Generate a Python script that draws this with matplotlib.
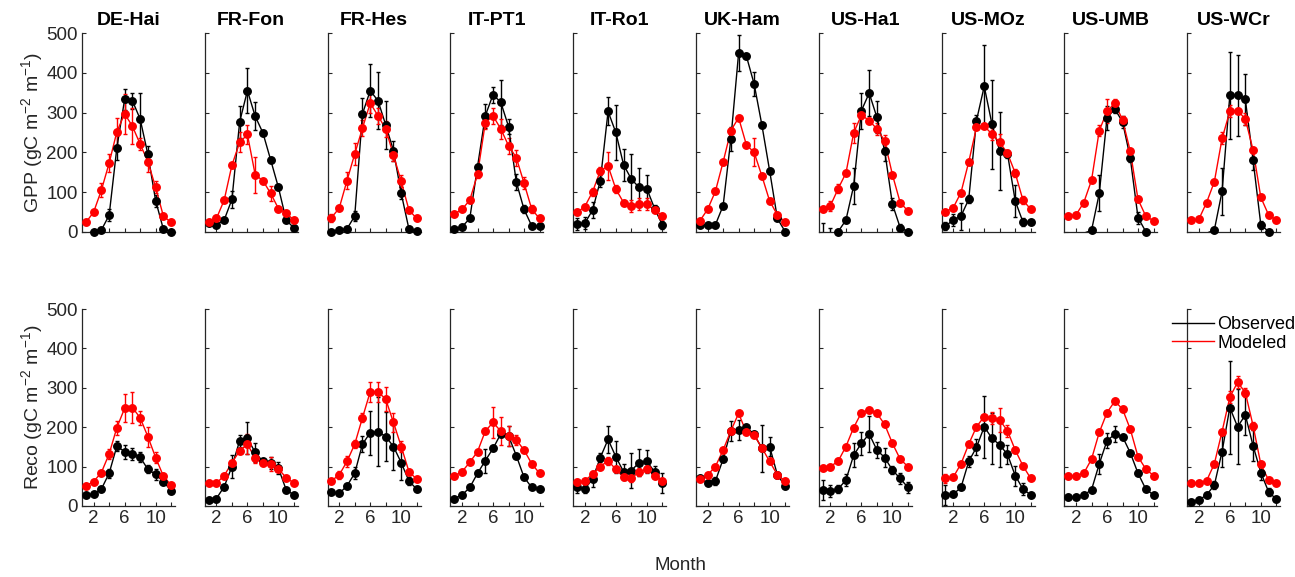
import numpy as np
import matplotlib
matplotlib.use("Agg")
import matplotlib.pyplot as plt
from matplotlib.lines import Line2D

plt.rcParams['font.family'] = ['Liberation Sans', 'DejaVu Sans']
plt.rcParams['mathtext.default'] = 'regular'

months = list(range(1, 13))
sites = ["DE-Hai", "FR-Fon", "FR-Hes", "IT-PT1", "IT-Ro1",
         "UK-Ham", "US-Ha1", "US-MOz", "US-UMB", "US-WCr"]

gpp_obs = [
    [-3, 0, 5, 42, 212, 333, 330, 284, 195, 79, 7, 1],
    [22, 18, 30, 82, 277, 355, 291, 249, 181, 112, 30, 10],
    [1, 5, 8, 40, 297, 355, 330, 269, 204, 97, 7, 3],
    [7, 13, 34, 164, 292, 345, 326, 265, 126, 57, 15, 14],
    [21, 22, 55, 129, 303, 250, 169, 133, 112, 109, 59, 18],
    [17, 18, 18, 66, 234, 450, 442, 372, 269, 154, 34, 1],
    [-5, -5, 1, 30, 116, 305, 349, 288, 204, 70, 11, 1],
    [15, 30, 40, 82, 280, 366, 271, 203, 197, 78, 25, 25],
    [-3, -3, -3, 4, 97, 287, 309, 277, 186, 36, 1, -3],
    [-3, -3, -3, 5, 102, 343, 343, 333, 181, 18, 1, -3],
]
gpp_obs_err = [
    [1, 1, 3, 15, 32, 27, 20, 65, 20, 15, 3, 1],
    [4, 4, 5, 22, 40, 56, 35, 5, 5, 5, 4, 3],
    [1, 2, 3, 12, 40, 67, 71, 61, 25, 15, 3, 1],
    [3, 3, 5, 8, 30, 20, 56, 20, 20, 10, 4, 4],
    [15, 15, 20, 15, 35, 69, 40, 63, 48, 34, 10, 10],
    [5, 3, 3, 5, 30, 45, 5, 30, 5, 5, 5, 2],
    [27, 16, 3, 5, 45, 45, 57, 40, 25, 15, 8, 2],
    [10, 15, 34, 10, 15, 104, 112, 98, 10, 40, 10, 5],
    [1, 1, 1, 3, 45, 30, 10, 15, 10, 15, 3, 1],
    [1, 1, 1, 3, 60, 109, 101, 65, 25, 10, 3, 1],
]
gpp_mod = [
    [24, 50, 105, 173, 252, 297, 266, 221, 177, 112, 40, 24],
    [26, 34, 80, 168, 225, 245, 144, 129, 97, 59, 47, 30],
    [36, 60, 129, 196, 261, 324, 292, 259, 193, 127, 55, 34],
    [45, 57, 80, 145, 274, 292, 259, 217, 187, 123, 57, 34],
    [49, 64, 101, 154, 166, 108, 74, 66, 70, 70, 55, 40],
    [28, 57, 102, 176, 255, 287, 219, 200, 141, 78, 43, 25],
    [57, 66, 109, 148, 249, 294, 280, 259, 229, 144, 74, 53],
    [51, 61, 99, 176, 263, 266, 246, 225, 198, 148, 80, 57],
    [40, 43, 74, 130, 255, 303, 324, 282, 203, 82, 40, 28],
    [29, 32, 74, 126, 235, 303, 305, 284, 206, 87, 43, 30],
]
gpp_mod_err = [
    [4, 4, 17, 22, 35, 50, 45, 15, 25, 15, 5, 4],
    [4, 4, 5, 5, 25, 25, 45, 5, 18, 4, 4, 4],
    [10, 5, 22, 28, 20, 25, 20, 20, 15, 15, 5, 4],
    [5, 5, 5, 10, 15, 20, 25, 20, 20, 15, 10, 5],
    [4, 5, 10, 10, 35, 10, 5, 15, 15, 15, 5, 5],
    [4, 4, 4, 4, 5, 5, 5, 35, 4, 4, 4, 4],
    [5, 12, 12, 5, 25, 10, 5, 15, 15, 5, 4, 4],
    [4, 4, 4, 5, 5, 5, 15, 20, 5, 10, 10, 5],
    [4, 4, 4, 5, 15, 30, 10, 10, 5, 4, 4, 4],
    [4, 4, 4, 5, 15, 15, 5, 15, 5, 4, 4, 4],
]
reco_obs = [
    [28, 30, 43, 83, 152, 138, 132, 124, 93, 80, 62, 39],
    [14, 19, 49, 100, 166, 172, 136, 113, 110, 96, 41, 28],
    [35, 32, 51, 83, 157, 186, 189, 176, 151, 110, 63, 43],
    [19, 28, 47, 83, 115, 146, 183, 178, 128, 73, 47, 43],
    [47, 43, 69, 123, 169, 125, 87, 90, 110, 113, 87, 58],
    [70, 58, 63, 119, 191, 193, 200, 182, 146, 151, 79, 51],
    [41, 38, 43, 66, 129, 159, 183, 142, 123, 91, 70, 47],
    [28, 30, 47, 113, 149, 201, 172, 155, 131, 77, 43, 28],
    [22, 22, 28, 41, 107, 166, 182, 176, 135, 83, 43, 28],
    [11, 15, 28, 53, 138, 250, 201, 231, 153, 85, 36, 17],
]
reco_obs_err = [
    [3, 3, 4, 12, 12, 18, 15, 12, 10, 15, 4, 4],
    [3, 3, 4, 30, 15, 40, 25, 5, 15, 15, 4, 3],
    [4, 4, 4, 15, 20, 56, 87, 63, 59, 44, 10, 4],
    [4, 4, 4, 8, 30, 5, 5, 25, 5, 4, 4, 4],
    [15, 10, 20, 12, 35, 40, 20, 45, 35, 30, 15, 25],
    [5, 5, 10, 5, 25, 25, 5, 5, 59, 25, 5, 5],
    [25, 15, 10, 15, 30, 30, 45, 20, 25, 10, 15, 15],
    [25, 5, 5, 15, 20, 79, 65, 55, 25, 25, 15, 5],
    [3, 3, 3, 4, 25, 20, 20, 5, 5, 4, 4, 3],
    [3, 3, 4, 10, 40, 117, 95, 50, 40, 20, 10, 4],
]
reco_mod = [
    [51, 62, 85, 132, 199, 248, 250, 224, 176, 123, 76, 53],
    [58, 58, 77, 110, 140, 157, 121, 110, 107, 94, 72, 58],
    [64, 79, 113, 157, 224, 290, 290, 271, 212, 151, 87, 68],
    [76, 87, 111, 138, 190, 212, 190, 178, 168, 142, 107, 83],
    [60, 64, 81, 100, 115, 93, 73, 70, 87, 93, 77, 63],
    [68, 79, 100, 142, 191, 235, 187, 180, 148, 113, 79, 63],
    [96, 100, 114, 151, 199, 237, 244, 235, 207, 159, 119, 100],
    [70, 73, 107, 157, 201, 227, 224, 218, 191, 142, 102, 70],
    [77, 77, 83, 119, 187, 237, 266, 246, 195, 125, 94, 77],
    [58, 58, 64, 107, 189, 276, 314, 288, 204, 106, 66, 58],
]
reco_mod_err = [
    [4, 4, 5, 12, 18, 35, 40, 18, 25, 15, 4, 4],
    [4, 4, 4, 5, 5, 25, 12, 5, 18, 5, 4, 4],
    [5, 10, 15, 10, 12, 25, 25, 30, 25, 15, 5, 5],
    [4, 4, 4, 5, 5, 40, 35, 25, 12, 5, 4, 4],
    [4, 4, 4, 4, 10, 5, 5, 10, 10, 5, 5, 5],
    [4, 4, 4, 4, 5, 5, 5, 5, 4, 4, 4, 4],
    [4, 4, 4, 4, 5, 5, 5, 5, 4, 4, 4, 4],
    [12, 4, 4, 5, 5, 5, 15, 30, 15, 5, 5, 5],
    [4, 4, 4, 4, 5, 5, 5, 5, 4, 4, 4, 4],
    [4, 4, 4, 5, 5, 15, 15, 12, 10, 5, 4, 4],
]

row_labels = ["GPP (gC m$^{-2}$ m$^{-1}$)", "Reco (gC m$^{-2}$ m$^{-1}$)"]
yticks = [0, 100, 200, 300, 400, 500]
xticks = [2, 4, 6, 8, 10, 12]
xticklabels = ["2", "", "6", "", "10", ""]

W, H = 1295, 577
fig = plt.figure(figsize=(W / 100, H / 100), dpi=100)
axc = "#262626"

lefts = [82 + i * 122.8 for i in range(10)]
rows = [(33, 232), (309, 506)]
ax_w = 93

def draw(ax, y, e, color):
    y = np.asarray(y, float)
    ax.errorbar(months, y, yerr=e, color=color, lw=1.0, elinewidth=1.0,
                capsize=1.5, capthick=1.0, fmt='-', zorder=2)
    ym = np.where(y >= 0, y, np.nan)
    ax.plot(months, ym, 'o', color=color, ms=5.4, clip_on=False, zorder=3)

for r, (top, bot) in enumerate(rows):
    for i, site in enumerate(sites):
        ax = fig.add_axes([lefts[i] / W, 1 - bot / H, ax_w / W, (bot - top) / H])
        if r == 0:
            draw(ax, gpp_obs[i], gpp_obs_err[i], 'black')
            draw(ax, gpp_mod[i], gpp_mod_err[i], 'red')
            ax.set_title(site, fontsize=14, fontweight='bold', pad=6)
        else:
            draw(ax, reco_obs[i], reco_obs_err[i], 'black')
            draw(ax, reco_mod[i], reco_mod_err[i], 'red')
        ax.set_xlim(0.5, 12.5)
        ax.set_ylim(0, 500)
        for s in ['top', 'right']:
            ax.spines[s].set_visible(False)
        for s in ['left', 'bottom']:
            ax.spines[s].set_color(axc)
            ax.spines[s].set_linewidth(0.9)
        ax.set_yticks(yticks)
        ax.set_xticks(xticks)
        ax.tick_params(direction='in', length=3, width=0.8, colors=axc,
                       labelsize=13.5, labelcolor=axc, pad=3)
        if r == 1:
            ax.set_xticklabels(xticklabels)
        else:
            ax.set_xticklabels([])
        if i == 0:
            ax.set_ylabel(row_labels[r], fontsize=14, color=axc)
            ax.yaxis.set_label_coords(-0.40, 0.5)
        else:
            ax.set_yticklabels([])

handles = [Line2D([], [], color='black', lw=1.0),
           Line2D([], [], color='red', lw=1.0)]
fig.legend(handles, ["Observed", "Modeled"], loc='upper left',
           bbox_to_anchor=(1172 / W, 1 - 316 / H), frameon=False,
           fontsize=13, handlelength=2.3, handletextpad=0.2,
           borderpad=0, labelspacing=0.1, borderaxespad=0)

fig.text(681 / W, 1 - 566 / H, "Month", fontsize=13.5, color=axc,
         ha='center', va='center')

fig.savefig("out.png", dpi=100)
